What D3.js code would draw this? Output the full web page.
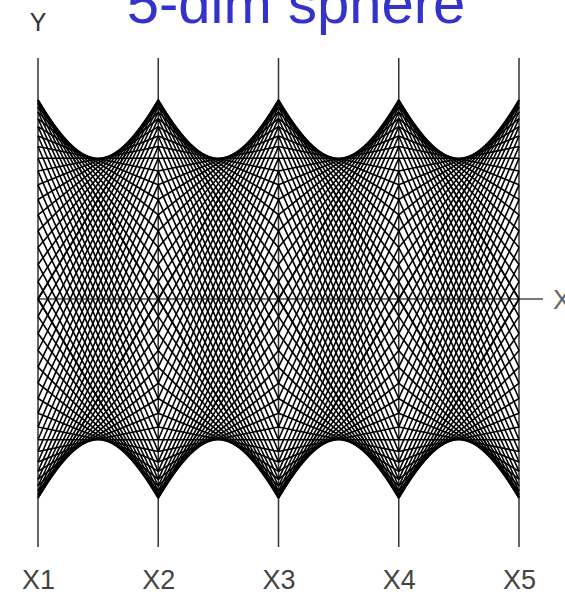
<!DOCTYPE html>
<html>
<head>
<meta charset="utf-8">
<script src="https://cdn.jsdelivr.net/npm/d3@7"></script>
<style>
  html, body { margin: 0; padding: 0; background: #fff; overflow: hidden; }
  svg { display: block; }
</style>
</head>
<body>
<svg id="chart" width="565" height="594"></svg>
<script>
// Parallel-coordinate axes
const axisNames = ["X1", "X2", "X3", "X4", "X5"];
// Sample angles (degrees) in the first quadrant of the unit circle;
// each angle gives a pair (cos, sin) joining two adjacent axes.
const quadrantAngles = [0, 5, 10, 15, 20, 25, 30, 35, 40, 45, 50, 55, 60, 65, 70, 75, 80, 85, 90];
// Sign patterns that carry the quadrant to the whole circle
const quadrantSigns = [[1, 1], [1, -1], [-1, 1], [-1, -1]];
const valueDomain = [-1, 1];
const titleText = "5-dim sphere";

const svg = d3.select("#chart");

const x = d3.scalePoint().domain(axisNames).range([38, 519]);
const y = d3.scaleLinear().domain(valueDomain).range([498, 100]);

// Build segments between each pair of neighbouring axes
const segments = [];
for (let i = 0; i < axisNames.length - 1; i++) {
  quadrantAngles.forEach(deg => {
    const t = deg * Math.PI / 180;
    quadrantSigns.forEach(([sa, sb]) => {
      segments.push({
        from: axisNames[i], to: axisNames[i + 1],
        a: sa * Math.cos(t), b: sb * Math.sin(t)
      });
    });
  });
}

// Vertical axis lines
svg.append("g").selectAll("line")
  .data(axisNames).join("line")
  .attr("x1", d => x(d)).attr("x2", d => x(d))
  .attr("y1", 58).attr("y2", 547)
  .attr("stroke", "#333").attr("stroke-width", 1.5);

// Horizontal axis through zero
svg.append("line")
  .attr("x1", x(axisNames[0])).attr("x2", 543)
  .attr("y1", y(0)).attr("y2", y(0))
  .attr("stroke", "#777").attr("stroke-width", 2);

// Line segments
svg.append("g").selectAll("line")
  .data(segments).join("line")
  .attr("x1", d => x(d.from)).attr("y1", d => y(d.a))
  .attr("x2", d => x(d.to)).attr("y2", d => y(d.b))
  .attr("stroke", "#000").attr("stroke-width", 1.6);

// Axis labels along the bottom
const axis = d3.axisBottom(x).tickSize(0).tickPadding(0);
const gAxis = svg.append("g").attr("transform", "translate(0,570)").call(axis);
gAxis.select(".domain").remove();
gAxis.selectAll("text")
  .attr("font-family", "Liberation Sans, Arial, sans-serif")
  .attr("font-size", 27)
  .attr("fill", "#444");

// Coordinate labels
svg.append("text")
  .attr("x", 38).attr("y", 31)
  .attr("text-anchor", "middle")
  .attr("font-family", "Liberation Sans, Arial, sans-serif")
  .attr("font-size", 25).attr("fill", "#333")
  .text("Y");
svg.append("text")
  .attr("x", 553).attr("y", y(0) + 10)
  .attr("font-family", "Liberation Sans, Arial, sans-serif")
  .attr("font-size", 27).attr("fill", "#666")
  .text("X");

// Title
svg.append("text")
  .attr("x", 296).attr("y", 23)
  .attr("text-anchor", "middle")
  .attr("font-family", "Liberation Sans, Arial, sans-serif")
  .attr("font-size", 58).attr("fill", "rgb(51,51,204)")
  .text(titleText);
</script>
</body>
</html>
